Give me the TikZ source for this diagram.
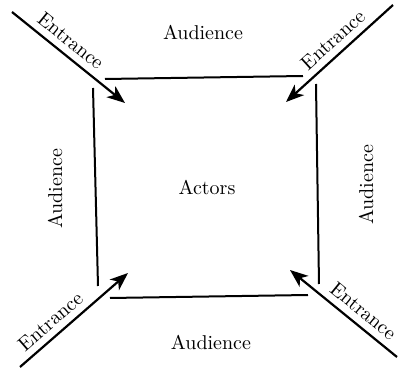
\documentclass[tikz,border=0pt]{standalone}
\usetikzlibrary{arrows.meta}
\begin{document}
\begin{tikzpicture}[x=0.5pt, y=-0.5pt,
    wall/.style={line width=1pt},
    entry/.style={line width=1.1pt, -{Stealth[length=9pt, width=7pt, inset=2.5pt]}},
    door/.style={sloped, above}]
    \useasboundingbox (0,0) rectangle (398,369);
    % edges of the stage
    \coordinate (tla) at (105,79);
    \coordinate (tra) at (303,76);
    \coordinate (trb) at (316,84);
    \coordinate (brb) at (319,284);
    \coordinate (bra) at (308,295);
    \coordinate (bla) at (110,298);
    \coordinate (blb) at (98,286);
    \coordinate (tlb) at (93,88);
    \draw[wall] (tla) -- (tra);
    \draw[wall] (trb) -- (brb);
    \draw[wall] (bra) -- (bla);
    \draw[wall] (blb) -- (tlb);
    % entrances
    \coordinate (nw) at (12,12);
    \coordinate (nwtip) at (125,103);
    \coordinate (ne) at (393,5);
    \coordinate (netip) at (286,102);
    \coordinate (sw) at (20,367);
    \coordinate (swtip) at (128,273);
    \coordinate (se) at (397,357);
    \coordinate (setip) at (290,270);
    \draw[entry] (nw) -- node[door, pos=0.44] (nwlabel) {Entrance} (nwtip);
    \draw[entry] (ne) -- node[door, pos=0.47] (nelabel) {Entrance} (netip);
    \draw[entry] (sw) -- node[door, pos=0.37] (swlabel) {Entrance} (swtip);
    \draw[entry] (se) -- node[door, pos=0.40] (selabel) {Entrance} (setip);
    % audience and actors
    \node (actors) at (207,187) {Actors};
    \node (north) at (203,32) {Audience};
    \node (south) at (211,342) {Audience};
    \node[rotate=90] (west) at (55,189) {Audience};
    \node[rotate=90] (east) at (366,185) {Audience};
\end{tikzpicture}
\end{document}
